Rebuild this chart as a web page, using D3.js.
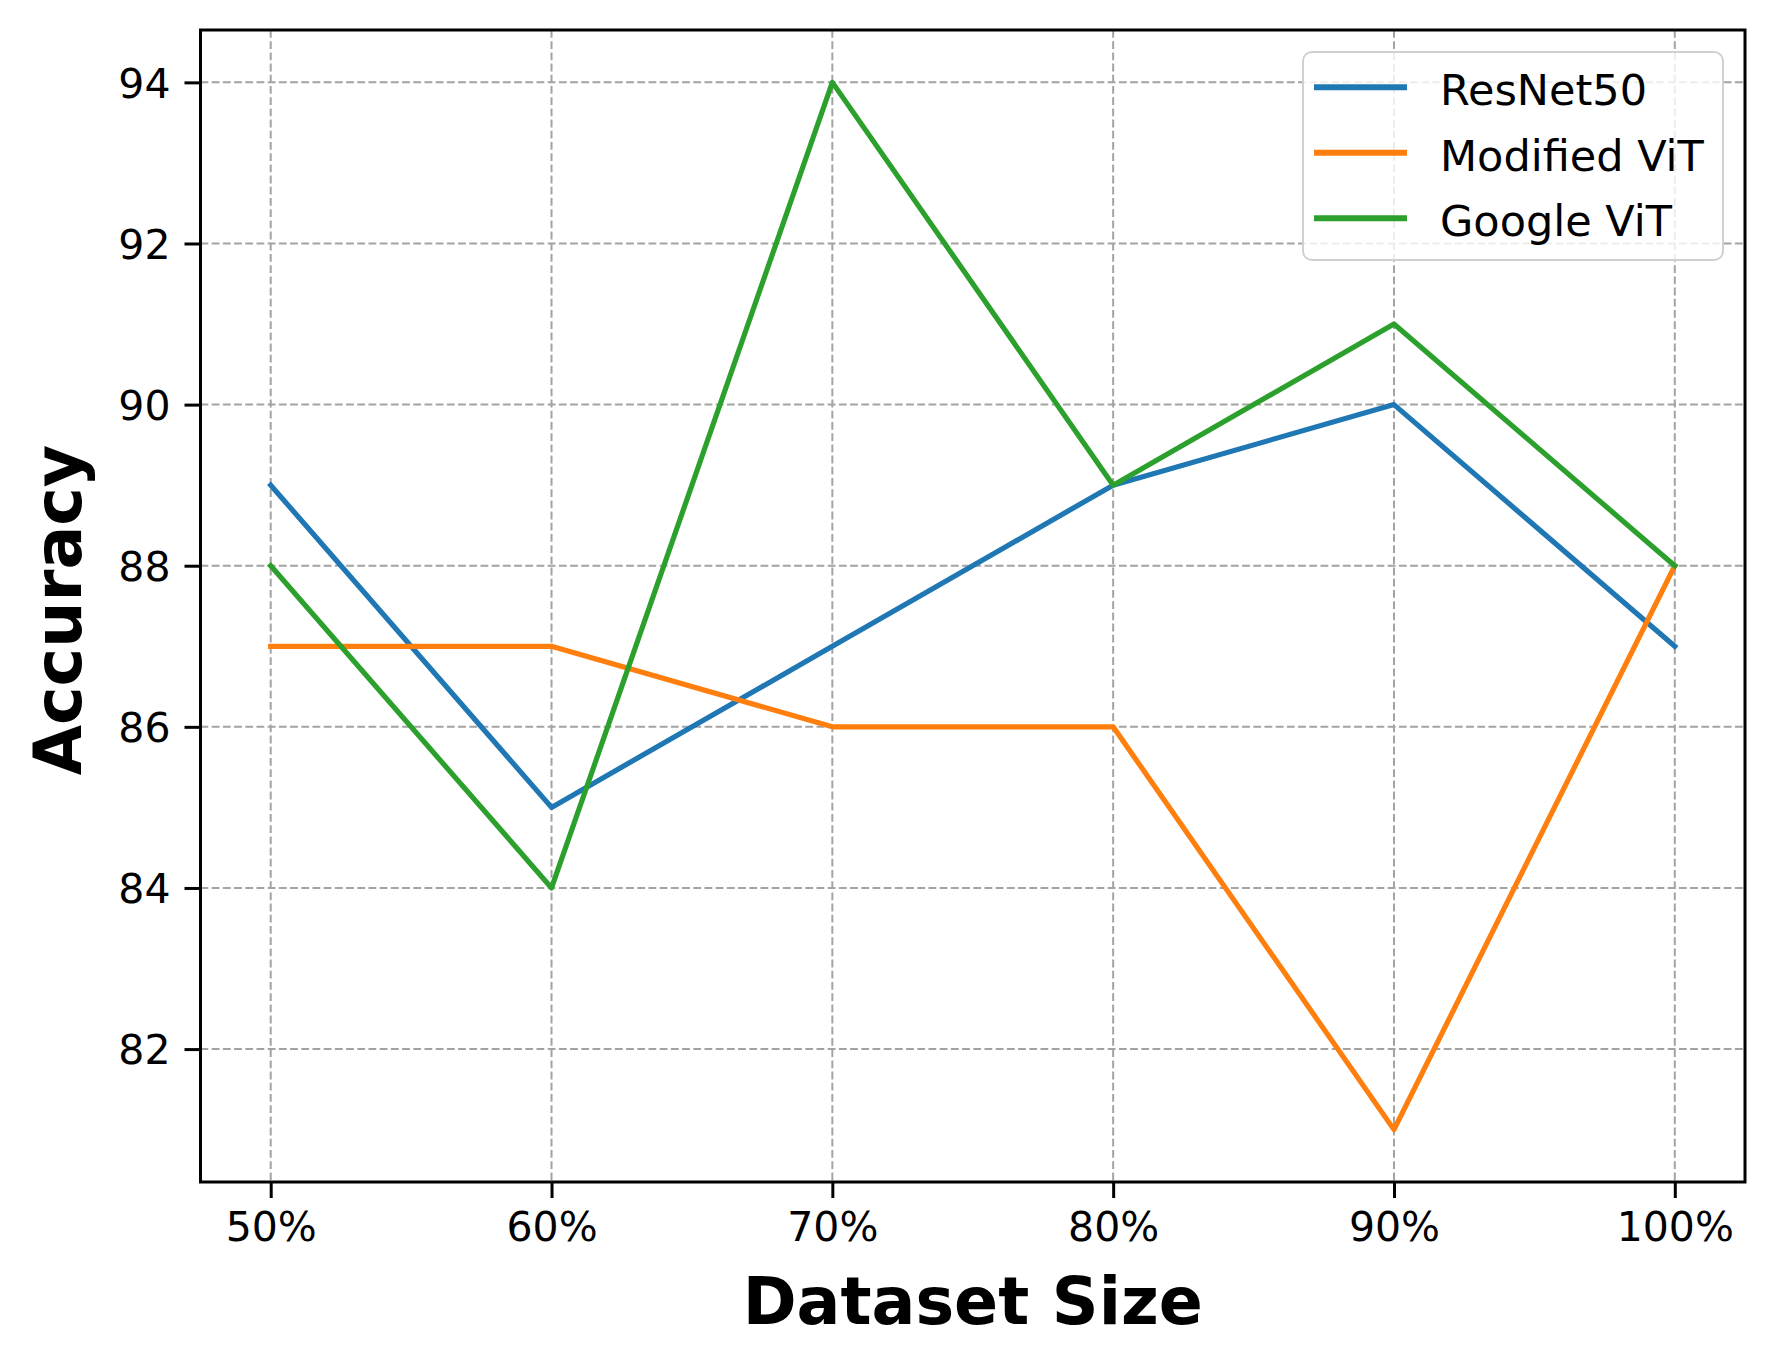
<!DOCTYPE html>
<html>
<head>
<meta charset="utf-8">
<script src="https://cdn.jsdelivr.net/npm/d3@7"></script>
<style>
  body { margin: 0; background: #fff; }
  text { font-family: "DejaVu Sans", sans-serif; fill: #000; }
</style>
</head>
<body>
<div class="chart-box"></div>
<script>
// chart data
const categories = ["50%", "60%", "70%", "80%", "90%", "100%"];
const resnet50 = [89, 85, 87, 89, 90, 87];
const modifiedVit = [87, 87, 86, 86, 81, 88];
const googleVit = [88, 84, 94, 89, 91, 88];
const yTicks = [82, 84, 86, 88, 90, 92, 94];
const seriesNames = ["ResNet50", "Modified ViT", "Google ViT"];
const seriesColors = ["#1f77b4", "#ff7f0e", "#2ca02c"];

const series = [resnet50, modifiedVit, googleVit].map((vals, i) => {
    return { name: seriesNames[i], color: seriesColors[i], values: vals };
});

const W = 1777, H = 1349;
const plotLeft = 200.5, plotRight = 1745, plotTop = 30, plotBottom = 1182;

const svg = d3.select(".chart-box").append("svg")
    .attr("width", W)
    .attr("height", H);

//scales, with matplotlib style 5% margins
const xScale = d3.scalePoint()
    .domain(categories)
    .range([plotLeft, plotRight])
    .padding(0.25);
const yScale = d3.scaleLinear()
    .domain([80.35, 94.65])
    .range([plotBottom, plotTop]);

//grid
const grid = svg.append("g");
grid.selectAll(".vgrid")
    .data(categories)
    .enter().append("line")
    .attr("x1", (d) => xScale(d))
    .attr("x2", (d) => xScale(d))
    .attr("y1", plotTop)
    .attr("y2", plotBottom)
    .attr("stroke", "#a3a3a3")
    .attr("stroke-width", 2)
    .attr("stroke-dasharray", "7.8,3.4");
grid.selectAll(".hgrid")
    .data(yTicks)
    .enter().append("line")
    .attr("x1", plotLeft)
    .attr("x2", plotRight)
    .attr("y1", (d) => yScale(d))
    .attr("y2", (d) => yScale(d))
    .attr("stroke", "#a3a3a3")
    .attr("stroke-width", 2)
    .attr("stroke-dasharray", "7.8,3.4");

//lines
svg.append("clipPath").attr("id", "clip")
    .append("rect")
    .attr("x", plotLeft).attr("y", plotTop)
    .attr("width", plotRight - plotLeft).attr("height", plotBottom - plotTop);

const line = d3.line()
    .x((d, i) => xScale(categories[i]))
    .y((d) => yScale(d));

svg.append("g")
    .attr("clip-path", "url(#clip)")
    .selectAll(".series")
    .data(series)
    .enter().append("path")
    .attr("d", (d) => line(d.values))
    .attr("fill", "none")
    .attr("stroke", (d) => d.color)
    .attr("stroke-width", 5.2)
    .attr("stroke-linejoin", "round")
    .attr("stroke-linecap", "square");

//axes
const xAxis = svg.append("g")
    .attr("transform", "translate(0," + plotBottom + ")")
    .call(d3.axisBottom(xScale).tickSize(16).tickPadding(14));
const yAxis = svg.append("g")
    .attr("transform", "translate(" + plotLeft + ",0)")
    .call(d3.axisLeft(yScale).tickValues(yTicks).tickSize(16).tickPadding(14));

[xAxis, yAxis].forEach((ax) => {
    ax.select(".domain").remove();
    ax.selectAll(".tick line").attr("stroke", "#000").attr("stroke-width", 3);
    ax.selectAll(".tick text")
        .attr("font-family", "DejaVu Sans")
        .attr("font-size", "41px")
        .attr("fill", "#000");
});
xAxis.selectAll(".tick text").attr("dy", "0.71em");
yAxis.selectAll(".tick text").attr("dy", "0.36em");

//frame
svg.append("rect")
    .attr("x", plotLeft).attr("y", plotTop)
    .attr("width", plotRight - plotLeft).attr("height", plotBottom - plotTop)
    .attr("fill", "none")
    .attr("stroke", "#000")
    .attr("stroke-width", 3);

//axis titles
svg.append("text")
    .attr("x", (plotLeft + plotRight) / 2)
    .attr("y", 1324)
    .attr("text-anchor", "middle")
    .attr("font-size", "65px")
    .attr("font-weight", "bold")
    .text("Dataset Size");
svg.append("text")
    .attr("transform", "translate(81," + ((plotTop + plotBottom) / 2 + 4) + ") rotate(-90)")
    .attr("text-anchor", "middle")
    .attr("font-size", "65px")
    .attr("font-weight", "bold")
    .text("Accuracy");

//legend
const legend = svg.append("g");
legend.append("rect")
    .attr("x", 1303).attr("y", 52)
    .attr("width", 420).attr("height", 208)
    .attr("rx", 9)
    .attr("fill", "#fff")
    .attr("fill-opacity", 0.8)
    .attr("stroke", "#d0d0d0")
    .attr("stroke-width", 2);
const rows = legend.selectAll(".row")
    .data(series)
    .enter().append("g")
    .attr("transform", (d, i) => "translate(0," + (87.3 + i * 65.5) + ")");
rows.append("line")
    .attr("x1", 1314).attr("x2", 1407)
    .attr("stroke", (d) => d.color)
    .attr("stroke-width", 6);
rows.append("text")
    .attr("x", 1440)
    .attr("y", 18)
    .attr("font-size", "43px")
    .text((d) => d.name);
</script>
</body>
</html>
